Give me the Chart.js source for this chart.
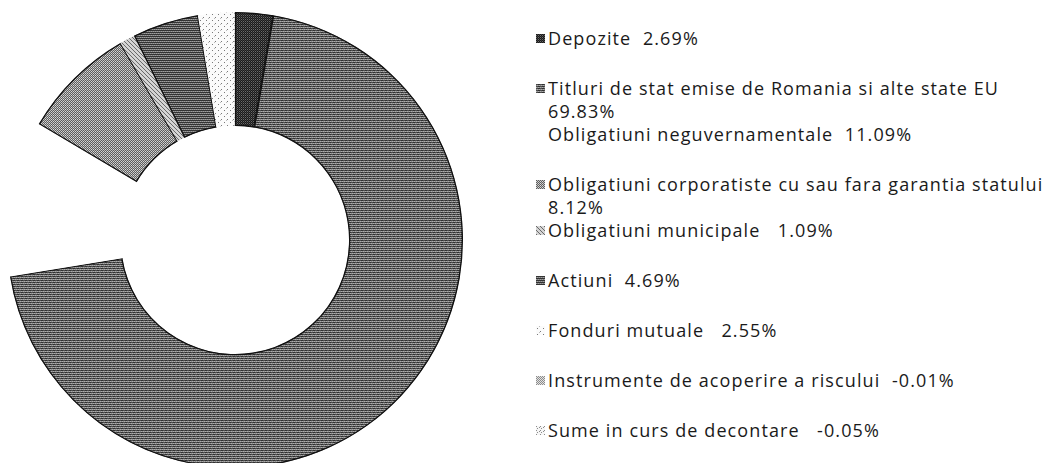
<!DOCTYPE html>
<html>
<head>
<meta charset="utf-8">
<script src="https://cdn.jsdelivr.net/npm/chart.js@4/dist/chart.umd.min.js"></script>
<style>
  html, body { margin: 0; padding: 0; background: #fff; overflow: hidden; }
  body { width: 1048px; height: 463px; position: relative; font-family: 'Open Sans', sans-serif; }
  #chartBox { position: absolute; left: 7px; top: 12px; width: 456px; height: 456px; }
  #legend { position: absolute; left: 534px; top: 27px; width: 514px; font-size: 18px; letter-spacing: 1.1px; color: #1a1a1a; }
  .item { position: relative; padding-left: 14px; line-height: 23px; margin-top: 27px; }
  .item.tight { margin-top: 0; }
  .item:first-child { margin-top: 0; }
  .item .mk { position: absolute; left: 2px; top: 7px; width: 9px; height: 9px; }
  .item .lbl { white-space: pre; }
  .item .val { white-space: pre; display: inline-block; }
</style>
</head>
<body>
<div id="chartBox"><canvas id="portfolioChart"></canvas></div>
<div id="legend"></div>
<script>
document.addEventListener('DOMContentLoaded', () => {
    const labels = [
        'Depozite',
        'Titluri de stat emise de Romania si alte state EU',
        'Obligatiuni neguvernamentale',
        'Obligatiuni corporatiste cu sau fara garantia statului',
        'Obligatiuni municipale',
        'Actiuni',
        'Fonduri mutuale',
        'Instrumente de acoperire a riscului',
        'Sume in curs de decontare'
    ];
    const shares = [2.69, 69.83, 11.09, 8.12, 1.09, 4.69, 2.55, -0.01, -0.05];

    // small dithered tiles so the slices look like the printed greys
    function makePattern(w, h, pick) {
        const c = document.createElement('canvas');
        c.width = w; c.height = h;
        const g = c.getContext('2d');
        for (let y = 0; y < h; y++) {
            for (let x = 0; x < w; x++) {
                g.fillStyle = pick(x, y);
                g.fillRect(x, y, 1, 1);
            }
        }
        return c;
    }

    const tiles = [
        makePattern(4, 4, (x, y) => ((x + y) % 2 === 0 ? '#1a1a1a' : (y % 2 ? '#6a6a6a' : '#3c3c3c'))),
        makePattern(4, 4, (x, y) => (y % 2 === 0 ? ((x >> 1) % 2 ? '#303030' : '#4c4c4c') : ((x + (y >> 1)) % 2 ? '#acacac' : '#8a8a8a'))),
        makePattern(2, 2, () => '#ffffff'),
        makePattern(4, 4, (x, y) => ((x + y) % 2 === 0 ? '#5e5e5e' : (y % 2 ? '#d8d8d8' : '#bababa'))),
        makePattern(4, 4, (x, y) => ((x * 3 + y) % 4 === 0 ? '#6a6a6a' : '#d4d4d4')),
        makePattern(4, 4, (x, y) => (y % 2 === 0 ? '#333' : ((x + (y >> 1)) % 2 ? '#a0a0a0' : '#7a7a7a'))),
        makePattern(6, 6, (x, y) => ((x === 1 && y === 2) || (x === 4 && y === 5) ? '#7a7a7a' : ((x === 3 && y === 0) ? '#bcbcbc' : '#fbfbfb'))),
        makePattern(4, 4, (x, y) => ((x + y) % 2 === 0 ? '#8c8c8c' : '#e2e2e2')),
        makePattern(4, 4, (x, y) => ((x + 2 * y) % 5 === 0 ? '#8c8c8c' : '#f6f6f6'))
    ];
    const hasMarker = [true, true, false, true, true, true, true, true, true];
    const borders = [1, 1, 0, 1, 0, 1, 0, 0, 0];

    const ctx = document.getElementById('portfolioChart').getContext('2d');
    const fills = tiles.map(t => ctx.createPattern(t, 'repeat'));

    new Chart(ctx, {
        type: 'doughnut',
        data: {
            labels: labels,
            datasets: [{
                data: shares,
                backgroundColor: fills,
                borderColor: '#111',
                borderWidth: borders,
                borderAlign: 'inner'
            }]
        },
        options: {
            responsive: true,
            maintainAspectRatio: false,
            animation: false,
            cutout: '50%',
            plugins: {
                legend: { display: false },
                tooltip: { enabled: false }
            }
        }
    });

    // legend on the right, built from the same arrays
    const legend = document.getElementById('legend');
    const gaps = [1, 1, 1, 0, 2, 1, 2, 1, 2]; // extra spaces before the value
    labels.forEach((name, i) => {
        const item = document.createElement('div');
        item.className = 'item' + (i === 2 || i === 4 ? ' tight' : '');
        if (hasMarker[i]) {
            const mk = document.createElement('span');
            mk.className = 'mk';
            mk.style.background = 'url(' + tiles[i].toDataURL() + ')';
            item.appendChild(mk);
        }
        const lbl = document.createElement('span');
        lbl.className = 'lbl';
        lbl.textContent = name + '\u00a0'.repeat(gaps[i]);
        item.appendChild(lbl);
        item.appendChild(document.createTextNode(' '));
        const val = document.createElement('span');
        val.className = 'val';
        val.textContent = shares[i].toFixed(2) + '%';
        item.appendChild(val);
        legend.appendChild(item);
    });
});
</script>
</body>
</html>
